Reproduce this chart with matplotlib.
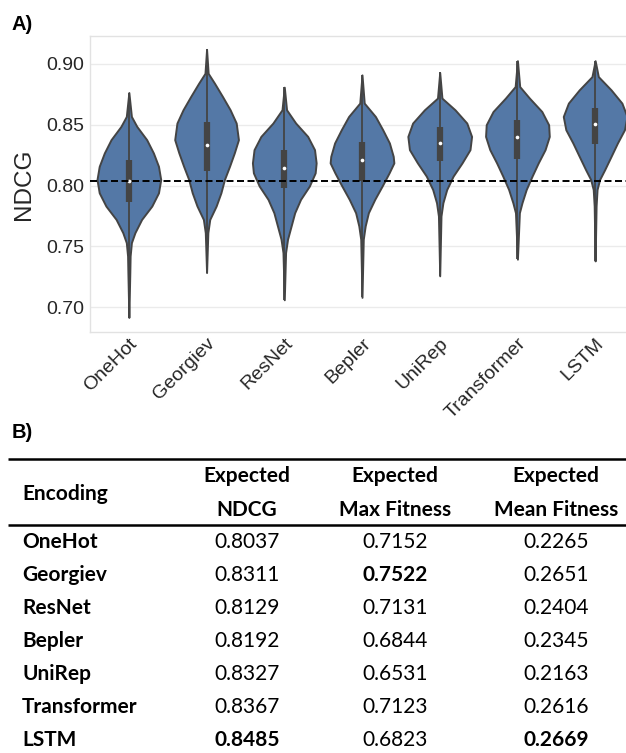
import matplotlib.pyplot as plt
import numpy as np

encodings = ["OneHot", "Georgiev", "ResNet", "Bepler", "UniRep", "Transformer", "LSTM"]
expected_ndcg = [0.8037, 0.8311, 0.8129, 0.8192, 0.8327, 0.8367, 0.8485]
expected_max_fitness = [0.7152, 0.7522, 0.7131, 0.6844, 0.6531, 0.7123, 0.6823]
expected_mean_fitness = [0.2265, 0.2651, 0.2404, 0.2345, 0.2163, 0.2616, 0.2669]

# quartiles / medians of the NDCG distributions
ndcg_q1 = [0.7866, 0.8120, 0.7980, 0.8040, 0.8200, 0.8220, 0.8344]
ndcg_median = [0.8035, 0.8330, 0.8145, 0.8213, 0.8347, 0.8396, 0.8506]
ndcg_q3 = [0.8213, 0.8520, 0.8295, 0.8355, 0.8480, 0.8540, 0.8640]

# density profiles: NDCG level -> relative density
onehot_levels = [0.6915, 0.728, 0.742, 0.753, 0.7612, 0.7721, 0.7831, 0.794, 0.8049, 0.8158, 0.8268, 0.8377, 0.8486, 0.8568, 0.8765]
onehot_density = [0, 0.03, 0.04, 0.08, 0.19, 0.40, 0.72, 0.93, 1.0, 0.93, 0.77, 0.56, 0.25, 0.08, 0]
georgiev_levels = [0.7284, 0.7612, 0.7721, 0.7831, 0.794, 0.8049, 0.8158, 0.8268, 0.8377, 0.8514, 0.8623, 0.8732, 0.8841, 0.8923, 0.912]
georgiev_density = [0, 0.04, 0.10, 0.30, 0.45, 0.56, 0.72, 0.87, 1.0, 0.93, 0.74, 0.50, 0.25, 0.05, 0]
resnet_levels = [0.706, 0.7448, 0.7558, 0.7667, 0.7776, 0.7886, 0.7995, 0.8104, 0.8186, 0.8295, 0.8404, 0.8514, 0.8623, 0.8809]
resnet_density = [0, 0.04, 0.10, 0.21, 0.32, 0.50, 0.77, 0.95, 0.98, 0.93, 0.72, 0.35, 0.07, 0]
bepler_levels = [0.708, 0.7558, 0.7667, 0.7776, 0.7886, 0.7995, 0.8104, 0.8186, 0.824, 0.835, 0.8459, 0.8568, 0.8678, 0.891]
bepler_density = [0, 0.04, 0.10, 0.20, 0.40, 0.63, 0.85, 1.0, 0.98, 0.86, 0.65, 0.42, 0.07, 0]
unirep_levels = [0.7257, 0.7749, 0.7858, 0.7967, 0.8077, 0.8186, 0.8295, 0.8404, 0.8514, 0.8623, 0.8719, 0.893]
unirep_density = [0, 0.04, 0.10, 0.22, 0.42, 0.70, 0.95, 1.0, 0.85, 0.48, 0.07, 0]
transformer_levels = [0.7394, 0.7776, 0.7858, 0.7967, 0.8077, 0.8186, 0.8295, 0.8404, 0.85, 0.8609, 0.8719, 0.8814, 0.9027]
transformer_density = [0, 0.06, 0.14, 0.27, 0.45, 0.64, 0.85, 0.98, 0.96, 0.75, 0.37, 0.07, 0]
lstm_levels = [0.738, 0.7831, 0.7967, 0.8049, 0.8131, 0.824, 0.835, 0.8459, 0.8568, 0.8678, 0.8787, 0.8896, 0.9027]
lstm_density = [0, 0.03, 0.06, 0.14, 0.30, 0.50, 0.70, 0.92, 1.0, 0.84, 0.50, 0.10, 0]

levels = [onehot_levels, georgiev_levels, resnet_levels, bepler_levels,
          unirep_levels, transformer_levels, lstm_levels]
densities = [onehot_density, georgiev_density, resnet_density, bepler_density,
             unirep_density, transformer_density, lstm_density]

violin_color = "#5478a6"
line_color = "#444444"
text_color = "#262626"
plot_font = "Liberation Sans"
table_font = "Lato"

fig = plt.figure(figsize=(6.26, 7.53), dpi=100)

# ---- panel A: violins ----
ax = fig.add_axes([90 / 626, 421 / 753, 544 / 626, 296 / 753])

vpstats = []
for lv, dn, med in zip(levels, densities, ndcg_median):
    vpstats.append(dict(coords=np.array(lv), vals=np.array(dn), mean=med,
                        median=med, min=lv[0], max=lv[-1]))
pos = np.arange(len(encodings))
parts = ax.violin(vpstats, positions=pos, widths=0.82, showextrema=False)
for body in parts["bodies"]:
    body.set_facecolor(violin_color)
    body.set_edgecolor(line_color)
    body.set_linewidth(1.4)
    body.set_alpha(1)
    body.set_zorder(2)

ax.vlines(pos, [lv[0] for lv in levels], [lv[-1] for lv in levels],
          color=line_color, lw=1.3, zorder=3)
ax.vlines(pos, ndcg_q1, ndcg_q3, color=line_color, lw=4.5, zorder=3)
ax.scatter(pos, ndcg_median, s=7, color="white", zorder=4, linewidths=0)

ax.axhline(expected_ndcg[0], color="black", lw=1.4, ls=(0, (3.6, 1.8)), zorder=5)

ax.set_xlim(-0.5, len(encodings) - 0.5)
ax.set_ylim(0.6795, 0.923)
ax.set_yticks([0.70, 0.75, 0.80, 0.85, 0.90])
ax.set_yticklabels([f"{t:.2f}" for t in [0.70, 0.75, 0.80, 0.85, 0.90]],
                   fontsize=14, family=plot_font, color=text_color)
ax.set_xticks(pos)
ax.set_xticklabels(encodings, rotation=45, ha="right", rotation_mode="anchor",
                   fontsize=14, family=plot_font, color=text_color)
ax.tick_params(length=0, pad=4)
ax.tick_params(axis="x", pad=2)
ax.set_ylabel("NDCG", fontsize=17.5, family=plot_font, color=text_color, labelpad=8)
ax.grid(axis="y", color="#ebebeb", lw=1, zorder=0)
ax.set_axisbelow(True)
for sp in ax.spines.values():
    sp.set_color("#e2e2e2")
    sp.set_linewidth(1)

fig.text(12 / 626, 1 - 25 / 753, "A)", fontsize=14.5, weight="bold",
         family=plot_font, va="center", ha="left")
fig.text(12 / 626, 1 - 432 / 753, "B)", fontsize=14.5, weight="bold",
         family=plot_font, va="center", ha="left")

# ---- panel B: summary table ----
tab = fig.add_axes([0, 0, 1, 1], zorder=-1)
tab.set_xlim(0, 626)
tab.set_ylim(753, 0)
tab.axis("off")

tab.plot([8, 626], [459, 459], color="black", lw=1.8, solid_capstyle="butt")
tab.plot([8, 626], [525, 525], color="black", lw=1.8, solid_capstyle="butt")

fs = 15
col_x = [247, 395, 556]
headers = [("Expected", "NDCG"), ("Expected", "Max Fitness"), ("Expected", "Mean Fitness")]
tab.text(22, 494, "Encoding", fontsize=fs, weight="bold", family=table_font,
         va="center", ha="left")
for x, (h1, h2) in zip(col_x, headers):
    tab.text(x, 476, h1, fontsize=fs, weight="bold", family=table_font, va="center", ha="center")
    tab.text(x, 510, h2, fontsize=fs, weight="bold", family=table_font, va="center", ha="center")

columns = [expected_ndcg, expected_max_fitness, expected_mean_fitness]
row_y0, row_step = 542, 33.0
for i, name in enumerate(encodings):
    y = row_y0 + i * row_step
    tab.text(22, y, name, fontsize=fs, weight="bold", family=table_font,
             va="center", ha="left")
    for x, col in zip(col_x, columns):
        best = int(np.argmax(col)) == i
        tab.text(x, y, f"{col[i]:.4f}", fontsize=fs, family=table_font,
                 weight="bold" if best else "normal", va="center", ha="center")

fig.savefig("out.png", dpi=100)
